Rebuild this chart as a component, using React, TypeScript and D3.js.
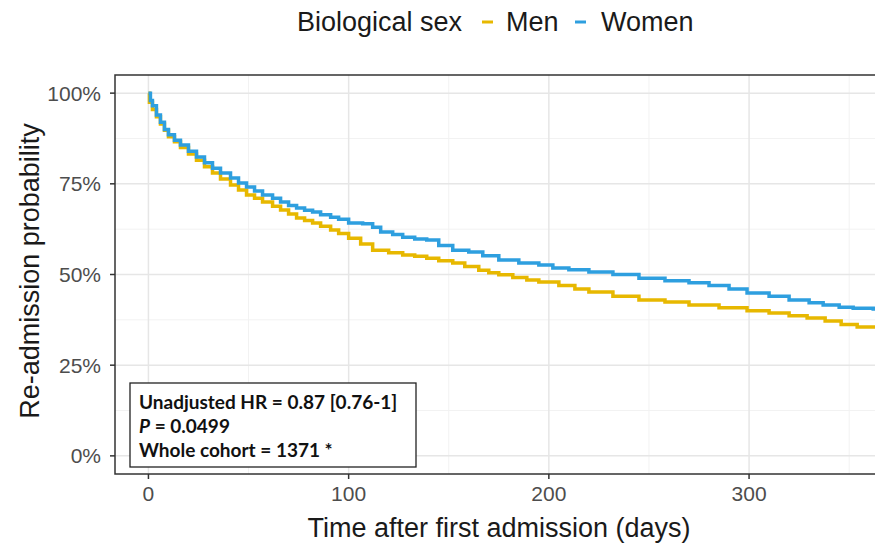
import React from "react";
import * as d3 from "d3";

const womenDays = [0, 1, 2, 4, 6, 8, 10, 13, 16, 20, 24, 28, 32, 36, 41, 45, 49, 53, 57, 62, 66, 70, 74, 78, 82, 86, 91, 95, 100, 107, 112, 116, 122, 127, 133, 139, 145, 152, 160, 167, 175, 185, 195, 202, 210, 220, 232, 245, 258, 270, 280, 290, 299, 310, 320, 330, 337, 345, 352, 362, 370];
const womenSurv = [1.0, 0.98, 0.965, 0.94, 0.92, 0.9, 0.885, 0.87, 0.857, 0.84, 0.824, 0.808, 0.793, 0.78, 0.766, 0.752, 0.741, 0.73, 0.719, 0.71, 0.7, 0.69, 0.683, 0.677, 0.672, 0.665, 0.658, 0.652, 0.642, 0.64, 0.63, 0.617, 0.61, 0.603, 0.598, 0.595, 0.58, 0.567, 0.562, 0.552, 0.54, 0.532, 0.526, 0.518, 0.513, 0.507, 0.5, 0.49, 0.483, 0.477, 0.47, 0.46, 0.449, 0.44, 0.43, 0.422, 0.416, 0.41, 0.407, 0.405, 0.402];

const menDays = [0, 0.5, 2, 4, 6, 8, 10, 13, 16, 20, 24, 28, 32, 36, 41, 45, 49, 53, 57, 62, 66, 70, 74, 78, 82, 86, 91, 95, 100, 106, 112, 120, 127, 133, 139, 145, 152, 158, 165, 170, 175, 182, 189, 195, 205, 213, 220, 232, 245, 258, 270, 285, 299, 310, 320, 329, 338, 346, 354, 362, 370];
const menSurv = [1.0, 0.975, 0.955, 0.935, 0.915, 0.898, 0.88, 0.866, 0.85, 0.832, 0.815, 0.797, 0.78, 0.763, 0.747, 0.733, 0.719, 0.71, 0.7, 0.688, 0.678, 0.667, 0.656, 0.649, 0.642, 0.633, 0.623, 0.613, 0.6, 0.584, 0.567, 0.56, 0.554, 0.55, 0.545, 0.538, 0.532, 0.522, 0.512, 0.505, 0.499, 0.492, 0.485, 0.479, 0.47, 0.46, 0.452, 0.44, 0.43, 0.424, 0.416, 0.408, 0.4, 0.394, 0.386, 0.38, 0.372, 0.362, 0.355, 0.355, 0.353];

const xTicks = [0, 100, 200, 300];
const xMinor = [50, 150, 250, 350];
const yTicks = [0, 0.25, 0.5, 0.75, 1];
const yMinor = [0.125, 0.375, 0.625, 0.875];

const seriesNames = ["Men", "Women"];
const seriesColors = ["#E7B800", "#2E9FDF"];
const annotationLines = ["Unadjusted HR = 0.87 [0.76-1]", "P = 0.0499", "Whole cohort = 1371 *"];

export default function App() {
  const W = 875, H = 550;
  const left = 115, top = 75, right = 880, bottom = 474;
  const x = d3.scaleLinear().domain([-16.7, 365.4]).range([left, right]);
  const y = d3.scaleLinear().domain([-0.05, 1.05]).range([bottom, top]);

  const line = d3
    .line<[number, number]>()
    .x((d) => x(d[0]))
    .y((d) => y(d[1]))
    .curve(d3.curveStepAfter);

  const series = [
    { name: seriesNames[0], color: seriesColors[0], pts: menDays.map((d, i) => [d, menSurv[i]] as [number, number]) },
    { name: seriesNames[1], color: seriesColors[1], pts: womenDays.map((d, i) => [d, womenSurv[i]] as [number, number]) },
  ];

  const font = "'Liberation Sans', Arial, sans-serif";
  const fmt = d3.format(".0%");

  return (
    <svg width={W} height={H} style={{ position: "absolute", left: 0, top: 0, background: "#fff" }} fontFamily={font}>
      <defs>
        <clipPath id="panel">
          <rect x={left} y={top} width={right - left} height={bottom - top} />
        </clipPath>
      </defs>
      <rect x={0} y={0} width={W} height={H} fill="#fff" />
      {/* legend */}
      <g fontSize={27} fill="#1a1a1a">
        <text x={297} y={31}>Biological sex</text>
        <line x1={482} x2={493} y1={22} y2={22} stroke={seriesColors[0]} strokeWidth={3} />
        <text x={506} y={31}>{seriesNames[0]}</text>
        <line x1={575} x2={586} y1={22} y2={22} stroke={seriesColors[1]} strokeWidth={3} />
        <text x={601} y={31}>{seriesNames[1]}</text>
      </g>
      {/* grid */}
      <g clipPath="url(#panel)">
        {yMinor.map((v) => (
          <line key={"ym" + v} x1={left} x2={right} y1={y(v)} y2={y(v)} stroke="#f2f2f2" strokeWidth={1} />
        ))}
        {xMinor.map((v) => (
          <line key={"xm" + v} x1={x(v)} x2={x(v)} y1={top} y2={bottom} stroke="#f2f2f2" strokeWidth={1} />
        ))}
        {yTicks.map((v) => (
          <line key={"y" + v} x1={left} x2={right} y1={y(v)} y2={y(v)} stroke="#e6e6e6" strokeWidth={1.5} />
        ))}
        {xTicks.map((v) => (
          <line key={"x" + v} x1={x(v)} x2={x(v)} y1={top} y2={bottom} stroke="#e6e6e6" strokeWidth={1.5} />
        ))}
        {series.map((s) => (
          <path key={s.name} d={line(s.pts) || ""} fill="none" stroke={s.color} strokeWidth={3.5} />
        ))}
      </g>
      <rect x={left} y={top} width={right - left} height={bottom - top} fill="none" stroke="#333" strokeWidth={1.5} />
      {/* y axis */}
      {yTicks.map((v) => (
        <g key={"yt" + v}>
          <line x1={left - 5} x2={left} y1={y(v)} y2={y(v)} stroke="#333" strokeWidth={1.5} />
          <text x={left - 14} y={y(v) + 7.5} textAnchor="end" fontSize={21} fill="#4d4d4d">
            {fmt(v)}
          </text>
        </g>
      ))}
      {/* x axis */}
      {xTicks.map((v) => (
        <g key={"xt" + v}>
          <line x1={x(v)} x2={x(v)} y1={bottom} y2={bottom + 5} stroke="#333" strokeWidth={1.5} />
          <text x={x(v)} y={501} textAnchor="middle" fontSize={21} fill="#4d4d4d">
            {v}
          </text>
        </g>
      ))}
      <text x={499} y={537} textAnchor="middle" fontSize={27} fill="#1a1a1a">
        Time after first admission (days)
      </text>
      <text transform={`translate(39, 271) rotate(-90)`} textAnchor="middle" fontSize={27} fill="#1a1a1a">
        Re-admission probability
      </text>
      {/* annotation */}
      <rect x={130} y={383} width={286} height={84} fill="#fff" stroke="#222" strokeWidth={1.3} />
      <g fontFamily="Lato, 'Open Sans', sans-serif" fontWeight="bold" fontSize={19} fill="#111">
        <text x={139} y={409}>{annotationLines[0]}</text>
        <text x={139} y={433}>
          <tspan fontStyle="italic">P</tspan>
          <tspan>{annotationLines[1].slice(1)}</tspan>
        </text>
        <text x={139} y={457}>{annotationLines[2]}</text>
      </g>
    </svg>
  );
}
